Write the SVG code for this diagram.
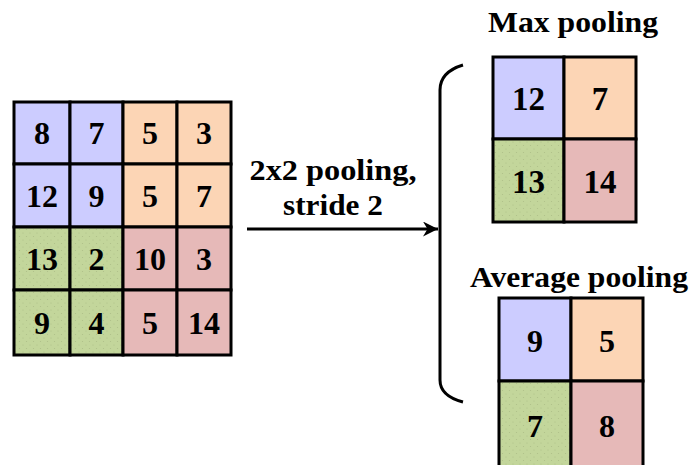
<svg xmlns="http://www.w3.org/2000/svg" width="693" height="465" viewBox="0 0 693 465">
<style>
.c{stroke:#000;stroke-width:3}
.b{fill:#ccccff}
.o{fill:#fcd5b5}
.g{fill:url(#dots)}
.r{fill:#e6b9b8}
.n{font-family:'Liberation Serif','Times New Roman',Times,serif;font-weight:bold;font-size:32px;text-anchor:middle;fill:#000}
.t{font-family:'Liberation Serif','Times New Roman',Times,serif;font-weight:bold;font-size:28.5px;text-anchor:middle;fill:#000}
.ln{fill:none;stroke:#000;stroke-width:3}
</style>
<defs>
<pattern id="dots" width="7" height="7" patternUnits="userSpaceOnUse">
<rect width="7" height="7" fill="#c3d69b"/>
<circle cx="2" cy="2" r="0.6" fill="#aebf88"/>
<circle cx="5.5" cy="5.5" r="0.6" fill="#aebf88"/>
</pattern>
<marker id="ah" viewBox="0 0 10 10" refX="10" refY="5" markerWidth="6" markerHeight="5" markerUnits="strokeWidth" orient="auto">
<path d="M0,0 L10,5 L0,10 L3,5 Z" fill="#000"/>
</marker>
</defs>
<rect width="693" height="465" fill="#fff"/>

<g id="input-grid">
<rect class="c b" x="14" y="102" width="56" height="62"/>
<rect class="c b" x="70" y="102" width="53" height="62"/>
<rect class="c o" x="123" y="102" width="54" height="62"/>
<rect class="c o" x="177" y="102" width="54" height="62"/>
<rect class="c b" x="14" y="164" width="56" height="63"/>
<rect class="c b" x="70" y="164" width="53" height="63"/>
<rect class="c o" x="123" y="164" width="54" height="63"/>
<rect class="c o" x="177" y="164" width="54" height="63"/>
<rect class="c g" x="14" y="227" width="56" height="63"/>
<rect class="c g" x="70" y="227" width="53" height="63"/>
<rect class="c r" x="123" y="227" width="54" height="63"/>
<rect class="c r" x="177" y="227" width="54" height="63"/>
<rect class="c g" x="14" y="290" width="56" height="65"/>
<rect class="c g" x="70" y="290" width="53" height="65"/>
<rect class="c r" x="123" y="290" width="54" height="65"/>
<rect class="c r" x="177" y="290" width="54" height="65"/>
<text class="n" x="42" y="144">8</text>
<text class="n" x="96.5" y="144">7</text>
<text class="n" x="150" y="144">5</text>
<text class="n" x="204" y="144">3</text>
<text class="n" x="42" y="207">12</text>
<text class="n" x="96.5" y="207">9</text>
<text class="n" x="150" y="207">5</text>
<text class="n" x="204" y="207">7</text>
<text class="n" x="42" y="270">13</text>
<text class="n" x="96.5" y="270">2</text>
<text class="n" x="150" y="270">10</text>
<text class="n" x="204" y="270">3</text>
<text class="n" x="42" y="334">9</text>
<text class="n" x="96.5" y="334">4</text>
<text class="n" x="150" y="334">5</text>
<text class="n" x="204" y="334">14</text>
</g>

<g id="pool-label">
<text class="t" x="333" y="180" textLength="167" lengthAdjust="spacingAndGlyphs">2x2 pooling,</text>
<text class="t" x="333" y="215" textLength="100" lengthAdjust="spacingAndGlyphs">stride 2</text>
</g>

<g id="connectors">
<line class="ln" x1="247" y1="229" x2="438" y2="229" marker-end="url(#ah)"/>
<path class="ln" d="M463,65 Q440,72 440,90 L440,380 Q440,396 463,402"/>
</g>

<g id="max-pooling">
<text class="t" x="573" y="32" textLength="170" lengthAdjust="spacingAndGlyphs">Max pooling</text>
<rect class="c b" x="493" y="57" width="71" height="82"/>
<rect class="c o" x="564" y="57" width="72" height="82"/>
<rect class="c g" x="493" y="139" width="71" height="83"/>
<rect class="c r" x="564" y="139" width="72" height="83"/>
<text class="n" x="528.5" y="110" style="font-size:33px">12</text>
<text class="n" x="600" y="110" style="font-size:33px">7</text>
<text class="n" x="528.5" y="193" style="font-size:33px">13</text>
<text class="n" x="600" y="193" style="font-size:33px">14</text>
</g>

<g id="average-pooling">
<text class="t" x="579" y="287" textLength="218" lengthAdjust="spacingAndGlyphs">Average pooling</text>
<rect class="c b" x="499" y="298" width="72" height="83"/>
<rect class="c o" x="571" y="298" width="72" height="83"/>
<rect class="c g" x="499" y="381" width="72" height="86"/>
<rect class="c r" x="571" y="381" width="72" height="86"/>
<text class="n" x="535" y="352">9</text>
<text class="n" x="607" y="352">5</text>
<text class="n" x="535" y="437">7</text>
<text class="n" x="607" y="437">8</text>
</g>
</svg>
